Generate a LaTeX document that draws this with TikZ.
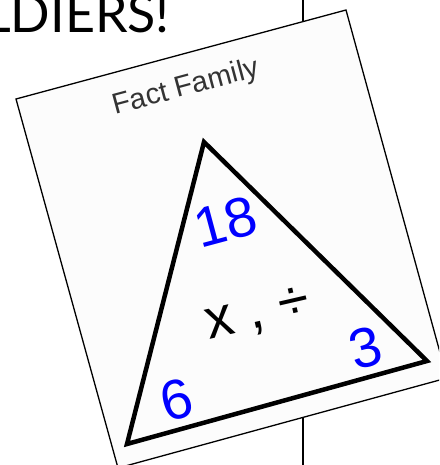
\documentclass[tikz,border=0pt]{standalone}
\usepackage{fontspec}
\newfontfamily\arialf{Liberation Sans}
\newfontfamily\titlef{Lato}
\definecolor{numblue}{RGB}{0,0,255}
\begin{document}
\begin{tikzpicture}[x=1pt,y=-1pt,
  num/.style={font=\arialf\fontsize{56}{56}\selectfont, text=numblue, rotate=15, inner sep=0},
  thin line/.style={line width=1.3pt, draw=black}]
\useasboundingbox (0,0) rectangle (439,465);
\clip (0,0) rectangle (439,465);
\node[anchor=base east, font=\titlef\fontsize{52}{52}\selectfont, inner sep=0] (title) at (170,33) {LDIERS!};
\coordinate (vt) at (303,0);
\coordinate (vb) at (303,465);
\draw[thin line] (vt) -- (vb);
\coordinate (c1) at (16,99);
\coordinate (c2) at (346,10);
\coordinate (c3) at (447,378);
\coordinate (c4) at (118,468);
\draw[thin line, fill=black!1] (c1) -- (c2) -- (c3) -- (c4) -- cycle;
\node[font=\arialf\fontsize{29}{29}\selectfont, text=black!80, rotate=15, inner sep=0] (fact) at (186,88) {Fact Family};
\coordinate (ta) at (204,142);
\coordinate (tb) at (127,444);
\coordinate (tc) at (427,361);
\draw[line width=4.5pt, line join=miter] (ta) -- (tb) -- (tc) -- cycle;
\node[num] (n18) at (226,222) {18};
\node[num] (n6) at (177,400) {6};
\node[num] (n3) at (366,348) {3};
\node[font=\arialf\fontsize{56}{56}\selectfont, rotate=13, inner sep=0] (ops) at (258,316) {x , ÷};
\end{tikzpicture}
\end{document}
